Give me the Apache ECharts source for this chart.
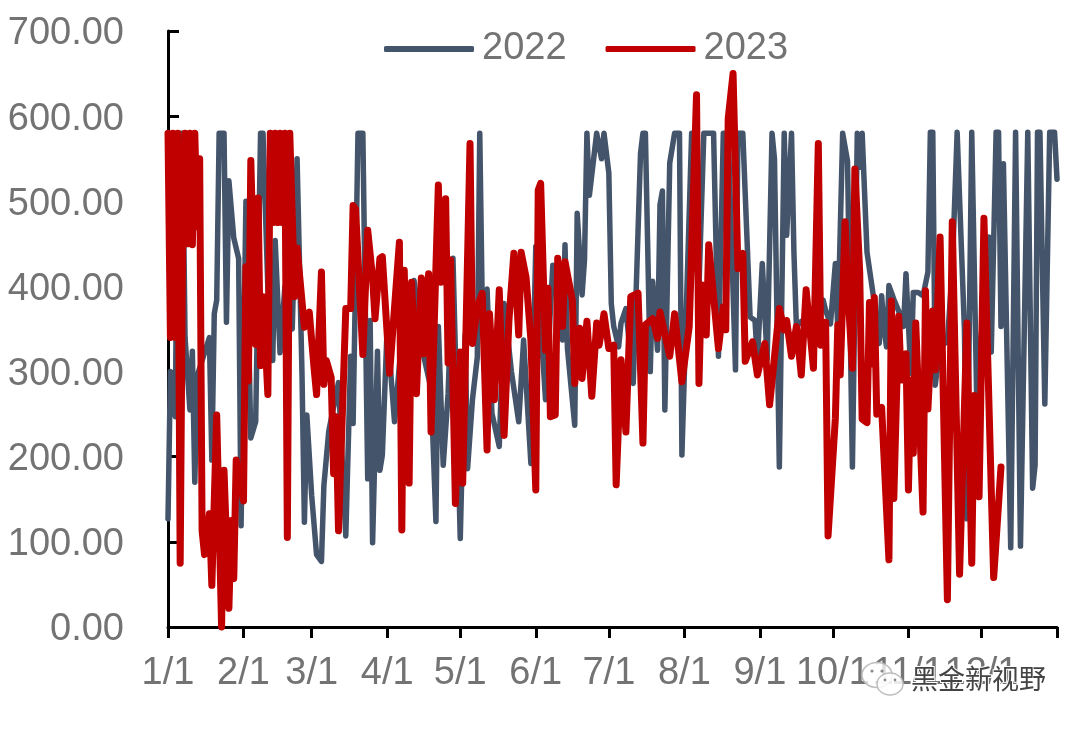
<!DOCTYPE html>
<html lang="en">
<head>
    <meta charset="UTF-8">
    <title>2022 2023</title>
    <script src="https://cdn.jsdelivr.net/npm/echarts@6/dist/echarts.min.js"></script>
</head>
<style>
    html, body { margin: 0; background-color: #FFFFFF; }
</style>
<body>
<div id="main" style="width: 1080px;height: 729px;"></div>
<script>
    // day of the year for each reading, and the reading itself
    var days2022 = [0,1,3,4,6,7,9,10,11,12,17,18,19,20,21,23,24,25,27,29,30,32,34,36,38,39,41,43,44,46,48,51,53,55,56,57,59,61,63,64,66,70,73,75,76,78,80,82,83,84,86,87,88,90,93,96,101,105,108,110,111,113,115,117,120,122,123,125,127,128,129,131,133,136,138,141,144,146,149,151,155,158,162,163,164,167,168,170,171,172,173,176,178,179,181,182,183,185,186,188,191,194,195,196,198,199,201,202,203,204,206,208,210,211,215,217,218,220,224,226,228,230,233,234,236,239,241,242,244,246,248,249,251,253,254,256,257,258,260,263,266,269,270,272,274,275,277,279,281,283,284,285,287,290,292,293,294,295,296,298,300,302,303,305,306,308,310,312,313,314,315,317,320,322,324,327,328,330,332,335,337,338,340,341,342,343,346,348,350,353,355,356,357,358,360,362,364,365];
    var values2022 = [127,300,247,580,580,340,255,324,170,295,340,196,368,384,580,580,358,524,457,433,119,500,222,241,580,580,398,313,454,322,400,350,550,300,123,249,154,85,77,166,230,287,107,318,239,580,580,174,360,99,324,184,202,353,241,340,407,318,280,124,353,190,274,433,104,343,186,267,317,580,384,397,251,212,380,300,241,337,192,447,267,425,337,449,327,237,486,390,431,580,507,580,550,580,533,380,353,329,357,374,286,556,580,580,300,406,325,496,512,255,545,580,580,202,580,580,400,580,580,318,580,580,302,580,580,364,360,314,427,314,580,550,188,580,460,580,439,353,359,345,356,384,372,356,427,350,580,547,188,580,540,580,440,381,333,389,349,329,401,385,371,353,415,298,393,393,389,417,581,581,284,330,335,420,581,349,127,581,274,380,458,323,581,581,353,544,93,581,95,581,163,190,581,581,262,581,581,526];

    var days2023 = [0,1,2,3,4,5,6,7,8,9,10,11,12,13,14,15,17,18,20,22,23,25,26,27,28,31,32,33,34,36,37,38,39,41,42,43,44,45,46,47,48,49,50,52,53,56,58,60,61,63,64,65,67,68,69,70,73,75,76,77,80,82,84,85,87,88,91,95,96,97,99,100,102,104,105,107,108,111,112,114,115,116,118,120,121,124,125,127,129,131,132,134,136,138,140,142,144,145,147,149,151,152,153,155,156,157,159,160,162,163,166,167,169,170,172,174,176,177,179,181,183,184,186,188,190,193,195,196,199,201,202,206,208,211,214,217,218,219,221,222,226,228,229,230,232,234,236,237,240,242,245,247,251,253,254,256,258,260,262,265,267,268,270,271,274,275,276,278,279,281,282,284,285,287,288,289,290,291,293,296,297,298,300,301,303,304,305,306,307,310,311,312,314,315,317,320,322,325,328,330,331,333,335,339,342];
    var values2023 = [580,340,580,340,580,75,450,580,450,580,449,580,470,550,113,85,133,49,249,0,184,22,125,57,196,148,423,289,548,332,504,307,388,273,580,475,580,475,580,475,580,105,580,388,445,352,370,303,273,417,285,313,293,180,247,113,374,374,495,491,320,466,410,362,433,435,298,452,114,419,169,405,274,410,321,415,229,519,405,503,310,431,145,323,169,568,333,376,392,208,368,267,396,225,361,439,343,440,411,337,161,513,521,325,398,247,249,433,353,429,384,286,351,292,359,271,357,331,368,327,331,167,314,229,388,392,216,355,362,339,370,318,368,288,353,625,286,402,343,449,327,376,349,597,650,421,439,312,335,296,333,261,374,349,360,318,353,296,396,304,568,331,358,107,245,355,296,476,400,304,538,417,244,240,381,309,387,250,258,79,383,151,365,290,321,161,290,204,357,135,395,256,371,302,458,32,476,62,357,75,272,153,480,58,188];

    var monthStarts = [0,31,59,90,120,151,181,212,243,273,304,334];
    var monthLabels = ['1/1','2/1','3/1','4/1','5/1','6/1','7/1','8/1','9/1','10/1','11/1','12/1'];
    var yearEnd = 365;

    function zip(xs, ys) {
        return xs.map(function (x, i) { return [x, ys[i]]; });
    }

    var labelFont = { color: '#737373', fontFamily: 'Liberation Sans', fontSize: 38 };

    var myChart = echarts.init(document.getElementById('main'));
    var option = {
        animation: false,
        backgroundColor: '#FFFFFF',
        grid: { left: 168, right: 23, top: 31, bottom: 102 },
        legend: {
            left: 379,
            top: 25,
            icon: 'roundRect',
            itemWidth: 90,
            itemHeight: 6,
            itemGap: 39,
            textStyle: { color: '#737373', fontFamily: 'Liberation Sans', fontSize: 38, padding: [0, 0, 0, 3] },
            data: ['2022', '2023']
        },
        xAxis: {
            type: 'value',
            min: 0,
            max: yearEnd,
            splitLine: { show: false },
            axisLine: { lineStyle: { color: '#000', width: 3 } },
            axisTick: { length: 11, customValues: monthStarts.concat([yearEnd]), lineStyle: { color: '#000', width: 3 } },
            axisLabel: {
                color: labelFont.color,
                fontFamily: labelFont.fontFamily,
                fontSize: labelFont.fontSize,
                margin: 28,
                hideOverlap: false,
                customValues: monthStarts,
                formatter: function (v) { return monthLabels[monthStarts.indexOf(v)]; }
            }
        },
        yAxis: {
            type: 'value',
            min: 0,
            max: 700,
            interval: 100,
            splitLine: { show: false },
            axisLine: { show: true, lineStyle: { color: '#000', width: 3 } },
            axisTick: { show: true, inside: true, length: 11, lineStyle: { color: '#000', width: 3 } },
            axisLabel: {
                color: labelFont.color,
                fontFamily: labelFont.fontFamily,
                fontSize: labelFont.fontSize,
                margin: 44,
                // 文字略往下挪
                verticalAlign: 'top',
                lineHeight: 6,
                formatter: function (v) { return v.toFixed(2); }
            }
        },
        series: [
            {
                name: '2022',
                type: 'line',
                showSymbol: false,
                symbol: 'none',
                clip: false,
                data: zip(days2022, values2022),
                itemStyle: { color: '#44546A' },
                lineStyle: { color: '#44546A', width: 5.5, cap: 'round', join: 'round' }
            },
            {
                name: '2023',
                type: 'line',
                showSymbol: false,
                symbol: 'none',
                clip: false,
                data: zip(days2023, values2023),
                itemStyle: { color: '#C00000' },
                lineStyle: { color: '#C00000', width: 7, cap: 'round', join: 'round' }
            }
        ],
        // 水印
        graphic: [
            { type: 'ellipse', z: 20, shape: { cx: 877, cy: 675, rx: 15, ry: 12.5 }, style: { fill: 'rgba(255,255,255,0.75)', stroke: '#bdbdbd', lineWidth: 1.5 } },
            { type: 'circle', z: 20, shape: { cx: 872, cy: 671, r: 1.6 }, style: { fill: '#8a8a8a' } },
            { type: 'circle', z: 20, shape: { cx: 882, cy: 671, r: 1.6 }, style: { fill: '#8a8a8a' } },
            { type: 'ellipse', z: 21, shape: { cx: 890, cy: 684, rx: 13, ry: 11 }, style: { fill: 'rgba(255,255,255,0.85)', stroke: '#bdbdbd', lineWidth: 1.5 } },
            { type: 'circle', z: 21, shape: { cx: 885, cy: 680, r: 1.4 }, style: { fill: '#8a8a8a' } },
            { type: 'circle', z: 21, shape: { cx: 895, cy: 680, r: 1.4 }, style: { fill: '#8a8a8a' } },
            {
                type: 'text',
                z: 22,
                left: 910,
                top: 664,
                style: {
                    text: '黑金新视野',
                    fill: '#444444',
                    stroke: '#ffffff',
                    lineWidth: 2,
                    font: '27px "Noto Sans CJK SC"'
                }
            }
        ]
    };
    myChart.setOption(option);
</script>
</body>
</html>
